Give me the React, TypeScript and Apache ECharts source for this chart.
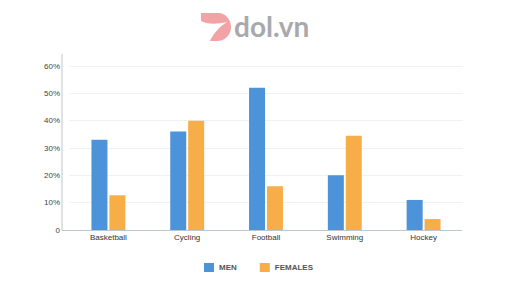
import React, { useEffect, useRef } from "react";
import * as echarts from "echarts";

const categories = ["Basketball", "Cycling", "Football", "Swimming", "Hockey"];
const men = [33, 36, 52, 20, 11];
const females = [12.7, 40, 16, 34.5, 4];
const yTicks = [0, 10, 20, 30, 40, 50, 60];

const logoPath =
  "M0,0 L17,0 C25,0 30,7 30,14 C30,22 24,28 16,28 L9,28 C13,20 18,14 26,9 C17,11 8,12 0,8 Z";

echarts.graphic.registerShape(
  "logo",
  (echarts.graphic as any).extendPath(logoPath, {})
);

export default function App() {
  const ref = useRef<HTMLDivElement>(null);
  useEffect(() => {
    if (!ref.current) return;
    const chart = echarts.init(ref.current, null, { renderer: "svg" });
    chart.setOption({
      animation: false,
      backgroundColor: "#ffffff",
      textStyle: { fontFamily: "Liberation Sans, Arial, sans-serif" },
      grid: { left: 69, right: 49, top: 66, bottom: 58, containLabel: false },
      legend: {
        data: ["MEN", "FEMALES"],
        left: 204,
        top: 263,
        padding: 0,
        itemWidth: 10,
        itemHeight: 9,
        itemGap: 23,
        icon: "rect",
        textStyle: { fontSize: 8, fontWeight: "bold", color: "#555", padding: [0, 0, 0, 0] },
      },
      xAxis: {
        type: "category",
        data: categories,
        axisLine: { show: false },
        axisTick: { show: false },
        axisLabel: { fontSize: 8, color: "#333", margin: 3 },
      },
      yAxis: {
        type: "value",
        min: yTicks[0],
        max: yTicks[yTicks.length - 1],
        interval: 10,
        offset: 7,
        axisLine: { show: false },
        axisTick: { show: false },
        axisLabel: {
          fontSize: 8,
          color: "#444",
          margin: 2,
          formatter: (v: number) => (v === 0 ? "0" : v + "%"),
        },
        splitLine: { lineStyle: { color: "#f1f1f1", width: 1 } },
      },
      series: [
        {
          name: "MEN",
          type: "bar",
          data: men,
          barWidth: 16,
          barGap: "12%",
          itemStyle: { color: "#4C93D9" },
        },
        {
          name: "FEMALES",
          type: "bar",
          data: females,
          barWidth: 16,
          itemStyle: { color: "#F7AE48" },
        },
      ],
      graphic: [
        {
          type: "line",
          shape: { x1: 62, y1: 54, x2: 62, y2: 230.5 },
          style: { stroke: "#bfc5cc", lineWidth: 1 },
          z: 10,
        },
        {
          type: "line",
          shape: { x1: 62, y1: 230.5, x2: 462, y2: 230.5 },
          style: { stroke: "#bfc5cc", lineWidth: 1 },
          z: 10,
        },
        {
          type: "logo",
          x: 201,
          y: 13,
          scaleX: 1,
          scaleY: 1,
          style: { fill: "#f2a3a5" },
        },
        {
          type: "text",
          x: 234,
          y: 12,
          style: {
            text: "dol.vn",
            fontSize: 28,
            fontWeight: "bold",
            fill: "#a9a9ad",
            fontFamily: "Lato, Noto Sans, sans-serif",
          },
        },
      ],
    });
    return () => chart.dispose();
  }, []);
  return (
    <div
      ref={ref}
      style={{ position: "fixed", left: 0, top: 0, width: 512, height: 288 }}
    />
  );
}
